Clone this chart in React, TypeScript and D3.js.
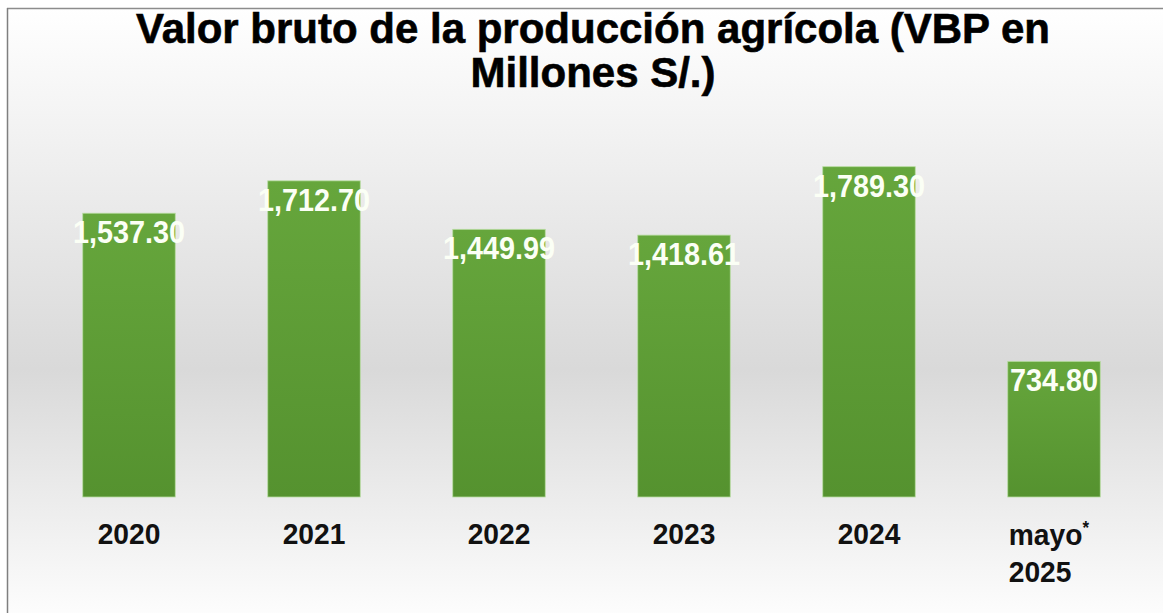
import React from "react";
import * as d3 from "d3";

const categories = ["2020", "2021", "2022", "2023", "2024", "mayo* 2025"];
const values = [1537.3, 1712.7, 1449.99, 1418.61, 1789.3, 734.8];
const valueLabels = ["1,537.30", "1,712.70", "1,449.99", "1,418.61", "1,789.30", "734.80"];
const titleLines = ["Valor bruto de la producción agrícola (VBP en", "Millones S/.)"];

const W = 1163;
const H = 613;
const FONT = "'Liberation Sans', Arial, sans-serif";

export default function App() {
  const x = d3
    .scaleBand<string>()
    .domain(categories)
    .range([36.5, 1146.5])
    .paddingInner(0.5)
    .paddingOuter(0.25);
  const baseY = 497;
  const y = d3.scaleLinear().domain([0, 1000]).range([baseY, baseY - 184.6]);

  return (
    <svg
      width={W}
      height={H}
      style={{ position: "absolute", left: 0, top: 0, display: "block" }}
      fontFamily={FONT}
    >
      <defs>
        <linearGradient id="bg" x1="0" y1="0" x2="0" y2="1">
          <stop offset="0%" stopColor="#ffffff" />
          <stop offset="58%" stopColor="#d9d9d9" />
          <stop offset="100%" stopColor="#ffffff" />
        </linearGradient>
        <linearGradient id="bar" x1="0" y1="0" x2="0" y2="1">
          <stop offset="0%" stopColor="#66a63c" />
          <stop offset="100%" stopColor="#55922f" />
        </linearGradient>
      </defs>
      <rect x={0} y={0} width={W} height={H} fill="#ffffff" />
      <rect x={7} y={8} width={W + 10} height={H + 10} fill="url(#bg)" />
      <line x1={7} y1={8.5} x2={W} y2={8.5} stroke="#8c8c8c" strokeWidth={1.5} />
      <line x1={7.5} y1={8} x2={7.5} y2={H} stroke="#7f7f7f" strokeWidth={1.5} />

      <text
        textAnchor="middle"
        fontWeight="bold"
        fontSize={42}
        fill="#000"
        stroke="#000"
        strokeWidth={0.6}
      >
        {titleLines.map((t, i) => (
          <tspan key={i} x={593} y={43 + i * 44}>
            {t}
          </tspan>
        ))}
      </text>

      {categories.map((c, i) => {
        const bx = x(c)!;
        const bw = x.bandwidth();
        const top = y(values[i]);
        return (
          <g key={c}>
            <rect
              x={bx}
              y={top}
              width={bw}
              height={baseY - top}
              fill="url(#bar)"
              stroke="#b7dca0"
              strokeWidth={0.8}
            />
            <text
              transform={`translate(${bx + bw / 2},${top + 30}) scale(0.93,1)`}
              textAnchor="middle"
              fontWeight="bold"
              fontSize={31}
              fill="#fbfff5"
            >
              {valueLabels[i]}
            </text>
          </g>
        );
      })}

      {categories.map((c) => {
        const bx = x(c)!;
        const bw = x.bandwidth();
        if (c.startsWith("mayo")) {
          const parts = c.split(" ");
          return (
            <text
              key={c}
              transform={`translate(${bx + 1},0) scale(0.94,1)`}
              fontWeight="bold"
              fontSize={30}
              fill="#111"
            >
              <tspan x={0} y={545}>
                {parts[0].replace("*", "")}
              </tspan>
              <tspan fontSize={18} dy={-11}>*</tspan>
              <tspan x={0} y={582}>
                {parts[1]}
              </tspan>
            </text>
          );
        }
        return (
          <text
            key={c}
            transform={`translate(${bx + bw / 2},544) scale(0.94,1)`}
            textAnchor="middle"
            fontWeight="bold"
            fontSize={30}
            fill="#111"
          >
            {c}
          </text>
        );
      })}
    </svg>
  );
}
